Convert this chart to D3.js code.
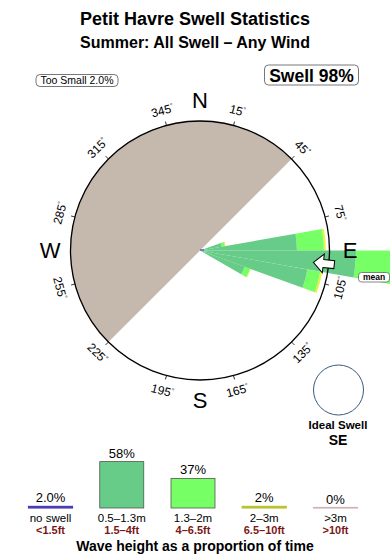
<!DOCTYPE html>
<html lang="en">
<head>
    <meta charset="UTF-8">
    <title>Petit Havre Swell Statistics</title>
    <script src="https://cdnjs.cloudflare.com/ajax/libs/d3/7.8.5/d3.min.js"></script>
    <style>
        body { margin: 0; background: #fff; }
        text { font-family: "Liberation Sans", Arial, Helvetica, sans-serif; }
    </style>
</head>
<body>

<div id="chart_holder"></div>

<script>
    // rose data: direction bins (centre, degrees) and % of time per height class
    var dirs = [75, 85, 95, 105, 115];
    var binWidth = 10;
    var swellSmall = [0.58, 11.2, 29.0, 14.2, 2.7];   // 0.5-1.3m
    var swellMid = [0.17, 7.1, 25.1, 3.6, 0.7];       // 1.3-2m
    var swellBig = [0.06, 0.6, 0.6, 0.6, 0.1];        // 2-3m
    var meanDir = 96;
    var landFrom = 225, landTo = 405;                  // shaded land sector (through north)

    var tickAngles = [15, 45, 75, 105, 135, 165, 195, 225, 255, 285, 315, 345];
    var compassLabels = ["N", "E", "S", "W"];

    // legend
    var legendCats = ["no swell", "0.5\u20131.3m", "1.3\u20132m", "2\u20133m", ">3m"];
    var legendFt = ["<1.5ft", "1.5\u20134ft", "4\u20136.5ft", "6.5\u201310ft", ">10ft"];
    var legendPct = [2.0, 58, 37, 2, 0];
    var legendPctLabels = ["2.0%", "58%", "37%", "2%", "0%"];
    var legendColors = ["#4a3fb5", "#66cc88", "#77ff66", "#b8c431", "#cdb5b2"];

    var width = 390;
    var height = 560;
    var cx = 200, cy = 250.5, R = 129.5;

    var svg = d3.select("#chart_holder")
        .append("svg")
        .attr("width", width)
        .attr("height", height);
    svg.append("rect")
        .attr("width", "100%")
        .attr("height", "100%")
        .attr("fill", "#ffffff");

    // titles
    svg.append("text").attr("x", 195).attr("y", 24.5).attr("text-anchor", "middle")
        .attr("font-size", 18).attr("font-weight", "bold").text("Petit Havre Swell Statistics");
    svg.append("text").attr("x", 195).attr("y", 47.5).attr("text-anchor", "middle")
        .attr("font-size", 16).attr("font-weight", "bold").text("Summer: All Swell \u2013 Any Wind");

    // boxed labels
    svg.append("rect").attr("x", 36).attr("y", 74.5).attr("width", 82).attr("height", 12).attr("rx", 4)
        .attr("fill", "#fff").attr("stroke", "#555").attr("stroke-width", 0.8);
    svg.append("text").attr("x", 77).attr("y", 84.2).attr("text-anchor", "middle")
        .attr("font-size", 10.5).text("Too Small 2.0%");
    svg.append("rect").attr("x", 264.5).attr("y", 65).attr("width", 94).attr("height", 20).attr("rx", 4)
        .attr("fill", "#fff").attr("stroke", "#555").attr("stroke-width", 0.8);
    svg.append("text").attr("x", 311.5).attr("y", 81.5).attr("text-anchor", "middle")
        .attr("font-size", 17.5).attr("font-weight", "bold").text("Swell 98%");

    var rose = svg.append("g").attr("transform", "translate(" + cx + "," + cy + ")");
    var rad = Math.PI / 180;

    // radius scale: circle edge = 20% of time (area proportional)
    var r = d3.scaleSqrt().domain([0, 20]).range([0, R]);

    // land
    rose.append("path")
        .attr("d", d3.arc()({innerRadius: 0, outerRadius: R, startAngle: landFrom * rad, endAngle: landTo * rad}))
        .attr("fill", "#c5b9ad");

    // stacked wedges
    var rows = dirs.map(function (d, i) {
        return {dir: d, small: swellSmall[i], mid: swellMid[i], big: swellBig[i]};
    });
    var keys = ["small", "mid", "big"];
    var wedgeColors = {small: "#66cc88", mid: "#77ff66", big: "#eeee44"};
    var stacked = d3.stack().keys(keys)(rows);
    var arc = d3.arc();

    stacked.slice().reverse().forEach(function (layer) {
        rose.selectAll(null)
            .data(layer)
            .enter()
            .append("path")
            .attr("d", function (d) {
                return arc({
                    innerRadius: r(d[0]),
                    outerRadius: r(d[1]),
                    startAngle: (d.data.dir - binWidth / 2) * rad,
                    endAngle: (d.data.dir + binWidth / 2) * rad
                });
            })
            .attr("fill", wedgeColors[layer.key]);
    });

    // no swell mark at centre
    rose.append("line").attr("x1", 0).attr("y1", -0.5).attr("x2", 4).attr("y2", -0.5)
        .attr("stroke", legendColors[0]).attr("stroke-width", 1.2);

    // circle
    rose.append("circle").attr("r", R).attr("fill", "none").attr("stroke", "#000").attr("stroke-width", 1.3);

    // ticks + degree labels
    tickAngles.forEach(function (a) {
        var s = Math.sin(a * rad), c = -Math.cos(a * rad);
        rose.append("line")
            .attr("x1", s * R).attr("y1", c * R)
            .attr("x2", s * (R + 4)).attr("y2", c * (R + 4))
            .attr("stroke", "#000").attr("stroke-width", 0.8);
        var rot = a <= 90 ? a : (a < 270 ? a - 180 : a - 360);
        var t = rose.append("text")
            .attr("transform", "translate(" + (s * 145) + "," + (c * 145) + ") rotate(" + rot + ")")
            .attr("text-anchor", "middle")
            .attr("dy", "0.35em")
            .attr("font-size", 12);
        t.append("tspan").text(a);
        t.append("tspan").attr("font-size", 7).attr("dy", "-0.6em").text("\u00b0");
    });

    // mean direction arrow
    rose.append("polygon")
        .attr("transform", "rotate(" + (meanDir - 90) + ")")
        .attr("points", "114,0 124,-9.5 124,-4 135,-4 135,4 124,4 124,9.5")
        .attr("fill", "#fff").attr("stroke", "#000").attr("stroke-width", 1);

    // compass letters
    compassLabels.forEach(function (l, i) {
        var a = i * 90;
        rose.append("text")
            .attr("x", Math.sin(a * rad) * 150)
            .attr("y", -Math.cos(a * rad) * 150)
            .attr("dy", "0.36em")
            .attr("text-anchor", "middle")
            .attr("font-size", 22)
            .text(l);
    });

    // mean label
    svg.append("rect").attr("x", 358.5).attr("y", 272.5).attr("width", 31).attr("height", 9.5).attr("rx", 3)
        .attr("fill", "#fff").attr("stroke", "#555").attr("stroke-width", 0.7);
    svg.append("text").attr("x", 374).attr("y", 280.3).attr("text-anchor", "middle")
        .attr("font-size", 8.5).attr("font-weight", "bold").text("mean");

    // ideal swell
    svg.append("circle").attr("cx", 338.5).attr("cy", 390).attr("r", 25)
        .attr("fill", "none").attr("stroke", "#3c5a7a").attr("stroke-width", 1);
    svg.append("text").attr("x", 338).attr("y", 429).attr("text-anchor", "middle")
        .attr("font-size", 11.5).attr("font-weight", "bold").text("Ideal Swell");
    svg.append("text").attr("x", 338).attr("y", 445).attr("text-anchor", "middle")
        .attr("font-size", 14).attr("font-weight", "bold").text("SE");

    // legend bars
    var lx = d3.scalePoint().domain(legendCats).range([50.5, 335.5]);
    var lh = d3.scaleLinear().domain([0, 100]).range([0, 80]);
    var base = 508;
    var barW = 44;

    var leg = svg.append("g");
    leg.selectAll("rect")
        .data(legendCats)
        .enter()
        .append("rect")
        .attr("x", function (d) { return lx(d) - barW / 2; })
        .attr("y", function (d, i) { return base - Math.max(lh(legendPct[i]), 0.5); })
        .attr("width", barW)
        .attr("height", function (d, i) { return Math.max(lh(legendPct[i]), 0.5); })
        .attr("fill", function (d, i) { return legendColors[i]; })
        .attr("stroke", function (d, i) { return (i === 1 || i === 2) ? "#555" : legendColors[i]; })
        .attr("stroke-width", function (d, i) { return (i === 1 || i === 2) ? 0.8 : 1.2; });

    leg.selectAll("text.pct")
        .data(legendCats)
        .enter()
        .append("text")
        .attr("class", "pct")
        .attr("x", function (d) { return lx(d); })
        .attr("y", function (d, i) { return base - lh(legendPct[i]) - 4; })
        .attr("text-anchor", "middle")
        .attr("font-size", 13)
        .text(function (d, i) { return legendPctLabels[i]; });

    leg.selectAll("text.cat")
        .data(legendCats)
        .enter()
        .append("text")
        .attr("class", "cat")
        .attr("x", function (d) { return lx(d); })
        .attr("y", 521.5)
        .attr("text-anchor", "middle")
        .attr("font-size", 11.5)
        .text(function (d) { return d; });

    leg.selectAll("text.ft")
        .data(legendFt)
        .enter()
        .append("text")
        .attr("class", "ft")
        .attr("x", function (d, i) { return lx(legendCats[i]); })
        .attr("y", 534)
        .attr("text-anchor", "middle")
        .attr("font-size", 11)
        .attr("font-weight", "bold")
        .attr("fill", "#7b1717")
        .text(function (d) { return d; });

    svg.append("text").attr("x", 195).attr("y", 551).attr("text-anchor", "middle")
        .attr("font-size", 14).attr("font-weight", "bold").text("Wave height as a proportion of time");
</script>

</body>
</html>
